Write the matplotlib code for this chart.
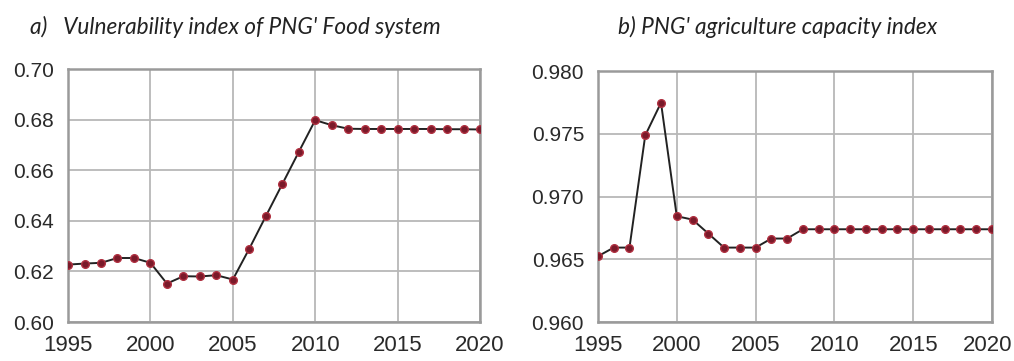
import matplotlib
matplotlib.use("Agg")
import matplotlib.pyplot as plt
from matplotlib.transforms import ScaledTranslation

years = list(range(1995, 2021))

vulnerability = [0.6227, 0.6231, 0.6234, 0.6253, 0.6253, 0.6234, 0.6152, 0.6181,
                 0.6180, 0.6185, 0.6168, 0.6290, 0.6418, 0.6545, 0.6672, 0.6798,
                 0.6778, 0.6764, 0.6763, 0.6763, 0.6763, 0.6763, 0.6763, 0.6762,
                 0.6762, 0.6761]

capacity = [0.96524, 0.96593, 0.96593, 0.97487, 0.97747, 0.96843, 0.96816, 0.96705,
            0.96593, 0.96593, 0.96593, 0.96665, 0.96665, 0.96739, 0.96739, 0.96739,
            0.96739, 0.96739, 0.96739, 0.96739, 0.96739, 0.96739, 0.96739, 0.96739,
            0.96739, 0.96739]

x_ticks = [1995, 2000, 2005, 2010, 2015, 2020]
vuln_ticks = [0.60, 0.62, 0.64, 0.66, 0.68, 0.70]
cap_ticks = [0.960, 0.965, 0.970, 0.975, 0.980]

title_a = "a)   Vulnerability index of PNG' Food system"
title_b = "b) PNG' agriculture capacity index"

plt.rcParams['font.family'] = ['Liberation Sans', 'DejaVu Sans']

fig = plt.figure(figsize=(10.14, 3.61), dpi=100)
ax1 = fig.add_axes([0.0671, 0.108, 0.4063, 0.7008])
ax2 = fig.add_axes([0.5897, 0.108, 0.3886, 0.6953])

line_color = "#222222"
marker_face = "#7a1a2a"
marker_edge = "#b03040"
grid_color = "#b8b8b8"
spine_color = "#9a9a9a"
text_color = "#2a2a2a"


def style(ax, series, yticks, fmt):
    ax.plot(years, series, color=line_color, lw=1.4, marker="o", ms=5.5,
            mfc=marker_face, mec=marker_edge, mew=1.0, zorder=3)
    ax.set_xlim(1995, 2020)
    ax.set_ylim(yticks[0], yticks[-1])
    ax.set_xticks(x_ticks)
    ax.set_yticks(yticks)
    ax.set_yticklabels([fmt.format(v) for v in yticks])
    ax.grid(True, color=grid_color, lw=1.3)
    ax.set_axisbelow(True)
    for s in ax.spines.values():
        s.set_color(spine_color)
        s.set_linewidth(1.8)
    ax.tick_params(axis="y", length=0, pad=10, labelsize=15, labelcolor=text_color)
    ax.tick_params(axis="x", length=0, pad=9, labelsize=16, labelcolor=text_color)
    for lbl in ax.get_yticklabels() + ax.get_xticklabels():
        lbl.set_clip_on(False)


style(ax1, vulnerability, vuln_ticks, "{:.2f}")
style(ax2, capacity, cap_ticks, "{:.3f}")

# keep the last year label of the right panel inside the figure edge
last = ax2.get_xticklabels()[-1]
last.set_horizontalalignment("right")
last.set_transform(last.get_transform() + ScaledTranslation(0.20, 0, fig.dpi_scale_trans))

fig.text(0.030, 0.925, title_a, fontsize=16.3, family=['Lato', 'DejaVu Sans'],
         style="italic", color="#222222", ha="left", va="center")
fig.text(0.609, 0.925, title_b, fontsize=16.3, family=['Lato', 'DejaVu Sans'],
         style="italic", color="#222222", ha="left", va="center")

fig.savefig("out.png", dpi=100, facecolor="white")
